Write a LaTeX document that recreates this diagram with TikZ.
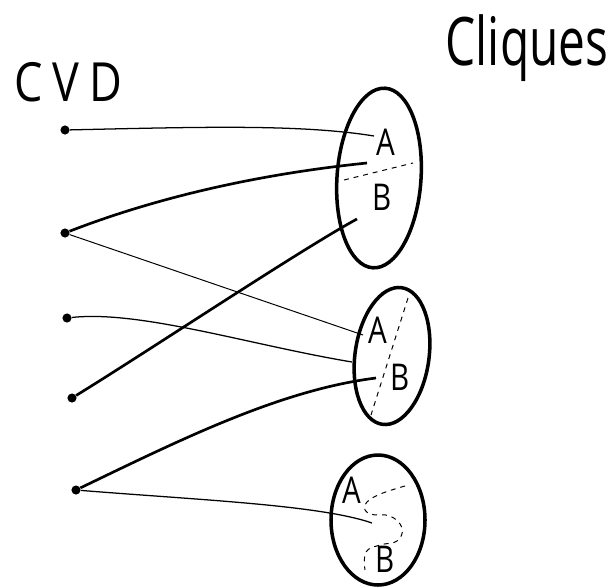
\documentclass[tikz,border=0pt]{standalone}
\usepackage{fontspec}
\setmainfont{Open Sans}
\begin{document}
\begin{tikzpicture}[x=0.025cm, y=-0.025cm,
  vtx/.style={circle, fill, inner sep=0pt, minimum size=6.5pt},
  blob/.style={line width=2.5pt},
  thinedge/.style={line width=0.9pt},
  thickedge/.style={line width=1.9pt},
  sep/.style={line width=0.7pt, dash pattern=on 3.5pt off 3.5pt},
  lbl/.style={font=\fontsize{21}{21}\selectfont, inner sep=0pt}]
\useasboundingbox (0,0) rectangle (610,587);
% headings
\node[font=\fontsize{32}{32}\selectfont] (cvd) at (68,82) {\scalebox{1}[1.2]{C\hspace{7pt}V\hspace{7pt}D}};
\node[font=\fontsize{34}{34}\selectfont] (cliques) at (527,48) {\scalebox{1}[1.4]{Cliques}};

% CVD vertices
\node[vtx] (v1) at (65,130) {};
\node[vtx] (v2) at (65,233) {};
\node[vtx] (v3) at (67,318) {};
\node[vtx] (v4) at (72,398) {};
\node[vtx] (v5) at (76,490) {};

% cliques
\draw[blob] (379,178) ellipse [x radius=42, y radius=90, rotate=-4];
\draw[blob] (392,356) ellipse [x radius=37, y radius=69, rotate=-8];
\draw[blob] (378,520) ellipse [x radius=47, y radius=65];

% A / B parts
\node[lbl] (a1) at (386,142) {\scalebox{1}[1.25]{A}};
\node[lbl] (b1) at (382,197) {\scalebox{1}[1.25]{B}};
\draw[sep] (344,180) -- (413,163);
\node[lbl] (a2) at (378,330) {\scalebox{1}[1.25]{A}};
\node[lbl] (b2) at (400,377) {\scalebox{1}[1.25]{B}};
\draw[sep] (408,298) -- (371,415);
\node[lbl] (a3) at (352,490) {\scalebox{1}[1.25]{A}};
\node[lbl] (b3) at (385,559) {\scalebox{1}[1.25]{B}};
\draw[sep] plot[smooth, tension=0.7] coordinates {(405,486) (378,495) (365,505) (370,514) (390,516) (402,528) (397,541) (380,545) (366,552) (365,570)};

% edge ends
\coordinate (t1) at (374,136);
\coordinate (t2) at (367,163);
\coordinate (t3) at (357,219);
\coordinate (m1) at (363,335);
\coordinate (m2) at (352,362);
\coordinate (m3) at (376,378);
\coordinate (s1) at (372,523);

% edges
\draw[thinedge] (v1) .. controls (200,127) and (300,124) .. (t1);
\draw[thickedge] (v2) .. controls (150,200) and (250,175) .. (t2);
\draw[thinedge, line width=0.7pt] (v2) -- (m1);
\draw[thinedge] (v3) .. controls (140,310) and (250,345) .. (m2);
\draw[thickedge] (v4) .. controls (150,350) and (300,250) .. (t3);
\draw[thickedge] (v5) .. controls (180,440) and (280,390) .. (m3);
\draw[thinedge] (v5) .. controls (200,500) and (320,505) .. (s1);
\end{tikzpicture}
\end{document}
